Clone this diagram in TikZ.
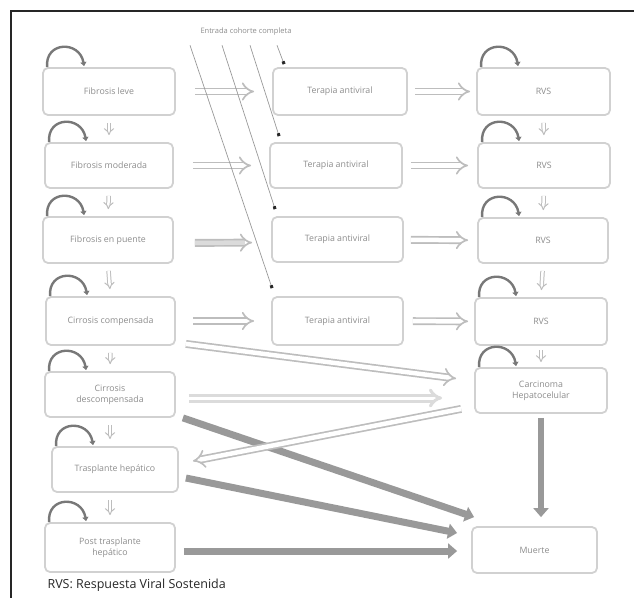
\documentclass[tikz,border=0pt]{standalone}
\usepackage{fontspec}
\setmainfont{Open Sans}
\usetikzlibrary{arrows.meta}
\usetikzlibrary{positioning}
\tikzset{stage/.style = {draw=mbox, line width=1.8pt, rounded corners=5pt,
                         minimum width=130pt, minimum height=46pt, align=center,
                         text=mtext, font=\fontsize{8.8}{11}\selectfont, inner sep=2pt}}
\tikzset{selfloop/.style = {mloop, line width=2.4pt,
                            -{Triangle[length=4pt, width=6pt]},
                            out=95, in=100, looseness=1.8}}
\tikzset{hollow/.style = {draw=mhollow, line width=1.7pt, double=white,
                          double distance=4.5pt, -{Implies}}}
\tikzset{downarr/.style = {draw=mhollow, line width=1pt, double=white,
                           double distance=2.5pt, -{Implies},
                           shorten <=7pt, shorten >=7pt}}
\tikzset{heavy/.style = {mdark, line width=7pt, -{Triangle[length=9pt, width=15pt]}}}
\tikzset{entry/.style = {mline, line width=0.7pt,
                         -{Square[length=3pt, width=3pt, color=mframe]}}}
\definecolor{mframe}{rgb}{0.15, 0.15, 0.15}
\definecolor{mbox}{rgb}{0.82, 0.82, 0.82}
\definecolor{mtext}{rgb}{0.55, 0.55, 0.55}
\definecolor{mloop}{rgb}{0.47, 0.47, 0.47}
\definecolor{mdark}{rgb}{0.6, 0.6, 0.6}
\definecolor{mhollow}{rgb}{0.74, 0.74, 0.74}
\definecolor{mlight}{rgb}{0.86, 0.86, 0.86}
\definecolor{mline}{rgb}{0.6, 0.6, 0.6}

\begin{document}
\begin{tikzpicture}[x=1pt, y=1pt]
      \useasboundingbox (0, 0) rectangle (634, -598);
      \draw [mframe, line width=2.5pt] (634, -11) -- (11, -11) -- (11, -598);

      \node [stage, minimum width=132pt, minimum height=47pt] (fl) at (109, -91.5) {Fibrosis leve};
      \node [stage, minimum width=128pt, minimum height=45pt] (fm) at (109, -165.5) {Fibrosis moderada};
      \node [stage] (fp) at (108, -240) {Fibrosis en puente};
      \node [stage, minimum width=129pt, minimum height=48pt] (cc) at (110.5, -321) {Cirrosis compensada};
      \node [stage, minimum height=45pt] (cd) at (110, -394.5) {Cirrosis\\descompensada};
      \node [stage, minimum width=126pt, minimum height=45pt] (th) at (115, -469.5) {Trasplante hepático};
      \node [stage, minimum height=49pt] (pt) at (110, -547.5) {Post trasplante\\hepático};

      \node [stage, minimum width=134pt, minimum height=47pt] (t1) at (340, -91.5) {Terapia antiviral};
      \node [stage, minimum width=132pt, minimum height=45pt] (t2) at (336, -165.5) {Terapia antiviral};
      \node [stage, minimum width=131pt, minimum height=45pt] (t3) at (337.5, -239.5) {Terapia antiviral};
      \node [stage, minimum width=131pt, minimum height=48pt] (t4) at (337.5, -321) {Terapia antiviral};

      \node [stage, minimum width=133pt, minimum height=47pt] (r1) at (543.5, -91.5) {RVS};
      \node [stage, minimum width=132pt, minimum height=45pt] (r2) at (544, -165.5) {RVS};
      \node [stage, minimum height=45pt] (r3) at (543, -240.5) {RVS};
      \node [stage, minimum width=132pt, minimum height=47pt] (r4) at (541, -321.5) {RVS};
      \node [stage, minimum width=132pt, minimum height=45pt] (hc) at (541, -390.5) {Carcinoma\\Hepatocelular};
      \node [stage, minimum width=125pt, minimum height=46pt] (mu) at (534.5, -550) {Muerte};

      \node [text=mtext, font=\fontsize{7.5}{9}\selectfont] (entrada) at (246, -32) {Entrada cohorte completa};

      \foreach \n in {fl, fm, fp, cc, cd, th, pt, r1, r2, r3, r4, hc} {
        \draw [selfloop] ([xshift=5pt]\n.north west) to ([xshift=42pt, yshift=1pt]\n.north west);
      }

      \draw [downarr] (fl.south) -- (fm.north);
      \draw [downarr] (fm.south) -- (fp.north);
      \draw [downarr] (fp.south) -- (cc.north);
      \draw [downarr] (cc.south) -- (cd.north);
      \draw [downarr] (cd.south) -- (cd.south |- th.north);
      \draw [downarr] (cd.south |- th.south) -- (cd.south |- pt.north);
      \draw [downarr] (r1.south) -- (r2.north);
      \draw [downarr] (r2.south) -- (r3.north);
      \draw [downarr] (r3.south) -- (r4.north);
      \draw [downarr, shorten <=4pt, shorten >=5pt] (r4.south) -- (r4.south |- hc.north);

      \draw [hollow, shorten <=19pt, shorten >=18pt] (fl) -- (t1);
      \draw [hollow, shorten <=19pt, shorten >=18pt] (fm) -- (t2);
      \draw [hollow, double=mlight, shorten <=21pt, shorten >=19pt] ([yshift=-3pt]fp.east) -- ([yshift=-3pt]t3.west);
      \draw [hollow, shorten <=17pt, shorten >=17pt] (cc) -- (t4);
      \draw [hollow, shorten <=7pt, shorten >=6pt] (t1) -- (r1);
      \draw [hollow, shorten <=8pt, shorten >=9pt] (t2) -- (r2);
      \draw [hollow, shorten <=7pt, shorten >=9pt] (t3) -- (r3);
      \draw [hollow, shorten <=9pt, shorten >=6pt] (t4) -- (r4);

      \draw [heavy] ([xshift=7pt]cd.south east) -- ([xshift=3pt, yshift=9pt]mu.north west);
      \draw [heavy] ([xshift=7pt, yshift=-8.5pt]th.east) -- ([xshift=-14pt, yshift=17pt]mu.west);
      \draw [heavy] ([xshift=8pt, yshift=-3.5pt]pt.east) -- ([xshift=-14pt, yshift=-1pt]mu.west);
      \draw [heavy, line width=6pt, shorten <=4pt, shorten >=9pt] (hc.south) -- (hc.south |- mu.north);

      \draw [hollow] ([xshift=10pt, yshift=2pt]cc.south east) -- ([xshift=-18pt, yshift=12pt]hc.west);
      \draw [hollow, draw=mlight, line width=3pt, double distance=3pt] ([xshift=13pt, yshift=-3.5pt]cd.east) -- ([xshift=-32pt, yshift=-7.5pt]hc.west);
      \draw [hollow] ([xshift=-13pt, yshift=5pt]hc.south west) -- ([xshift=14pt, yshift=8.5pt]th.east);

      \draw [entry] ([xshift=-56pt, yshift=-6pt]entrada.south) -- ([xshift=1pt, yshift=8pt]t4.north west);
      \draw [entry] ([xshift=-24pt, yshift=-6pt]entrada.south) -- ([xshift=4pt, yshift=7pt]t3.north west);
      \draw [entry] ([xshift=4pt, yshift=-6pt]entrada.south) -- ([xshift=10pt, yshift=6pt]t2.north west);
      \draw [entry] ([xshift=31pt, yshift=-6pt]entrada.south) -- ([xshift=12pt, yshift=3pt]t1.north west);

      \node [anchor=base west, text=mframe, font=\fontsize{12.5}{14}\selectfont] (legend) at (44, -588) {RVS: Respuesta Viral Sostenida};
    \end{tikzpicture}
\end{document}
